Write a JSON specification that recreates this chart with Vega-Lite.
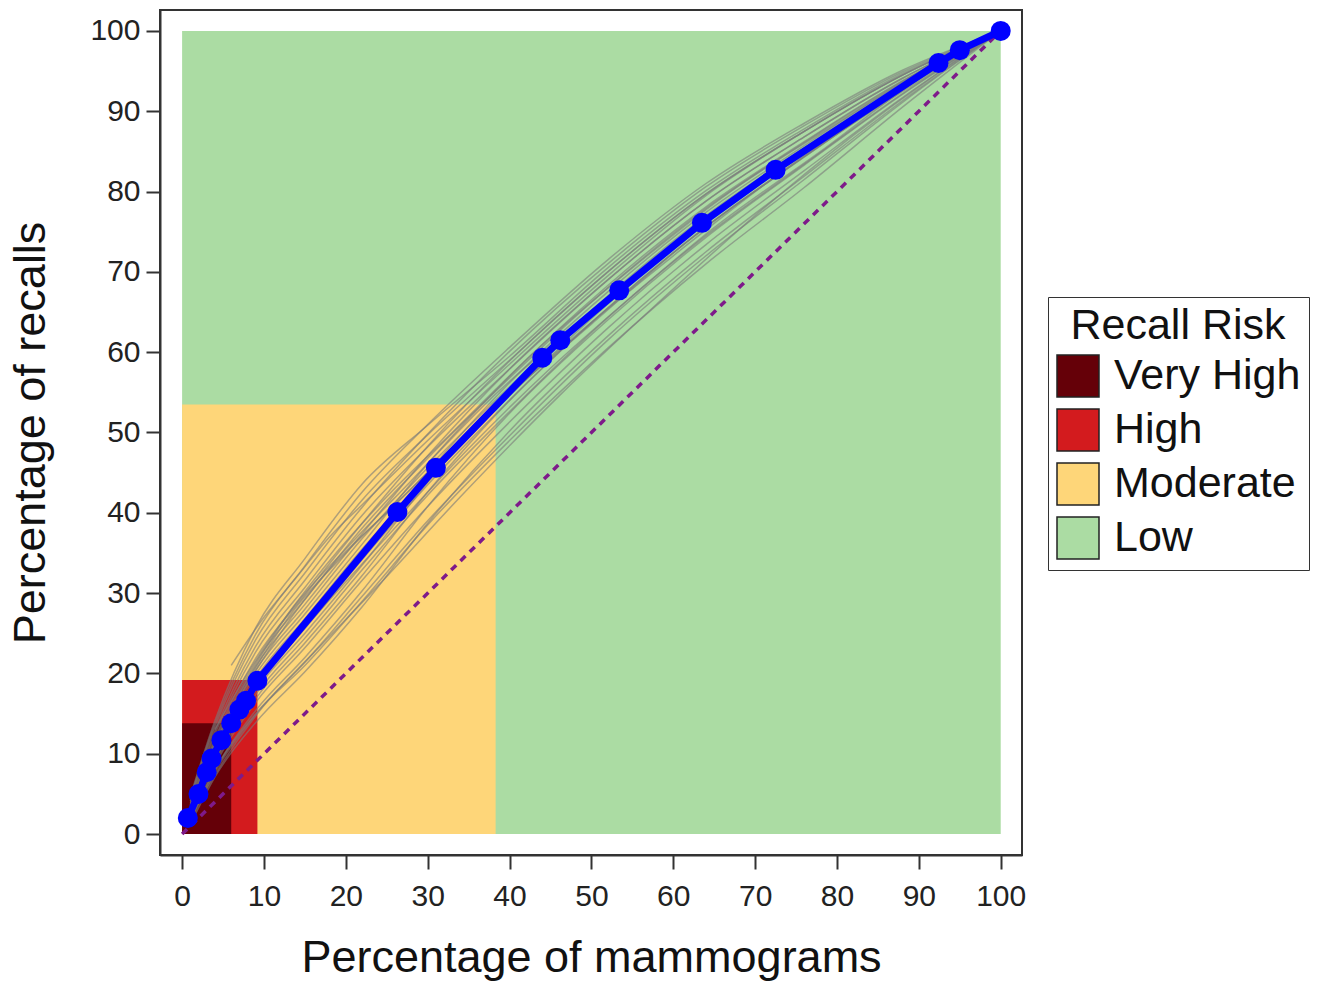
{
  "$schema": "https://vega.github.io/schema/vega-lite/v6.json",
  "autosize": {"type": "none"},
  "width": 862,
  "height": 845,
  "padding": {"left": 160, "top": 10, "right": 307, "bottom": 131},
  "background": "white",
  "config": {
    "view": {"stroke": "#333333", "strokeWidth": 2},
    "font": "Liberation Sans",
    "axis": {
      "grid": false,
      "domainColor": "#333333",
      "domainWidth": 2,
      "tickColor": "#333333",
      "tickWidth": 2,
      "tickSize": 14,
      "labelFontSize": 30,
      "labelColor": "#222222",
      "labelFont": "Liberation Sans",
      "titleFont": "Liberation Sans",
      "titleFontSize": 45,
      "titleFontWeight": "normal",
      "titleColor": "#111111"
    }
  },
  "datasets": {
    "zones": [
      {"risk": "Low", "x0": 0, "x1": 100, "y0": 0, "y1": 100},
      {"risk": "Moderate", "x0": 0, "x1": 38.3, "y0": 0, "y1": 53.5},
      {"risk": "High", "x0": 0, "x1": 9.2, "y0": 0, "y1": 19.2},
      {"risk": "Very High", "x0": 0, "x1": 6.0, "y0": 0, "y1": 13.8}
    ],
    "diag": [{"x": 0, "y": 0}, {"x": 100, "y": 100}],
    "main": [
      {"x": 0.7, "y": 2.0}, {"x": 2.0, "y": 5.0}, {"x": 3.0, "y": 7.7}, {"x": 3.6, "y": 9.4},
      {"x": 4.8, "y": 11.7}, {"x": 6.0, "y": 13.8}, {"x": 7.0, "y": 15.5}, {"x": 7.8, "y": 16.6},
      {"x": 9.2, "y": 19.1}, {"x": 26.3, "y": 40.1}, {"x": 31.0, "y": 45.6}, {"x": 44.0, "y": 59.3},
      {"x": 46.2, "y": 61.5}, {"x": 53.4, "y": 67.7}, {"x": 63.5, "y": 76.1}, {"x": 72.5, "y": 82.7},
      {"x": 92.4, "y": 96.0}, {"x": 95.0, "y": 97.6}, {"x": 100, "y": 100}
    ],
    "boot": [
      {"g":1,"x":1,"y":1.2},{"g":1,"x":4,"y":7.1},{"g":1,"x":9,"y":13.9},{"g":1,"x":15,"y":20.2},{"g":1,"x":22,"y":28.3},{"g":1,"x":30,"y":38.7},{"g":1,"x":40,"y":50.2},{"g":1,"x":52,"y":62.0},{"g":1,"x":64,"y":72.5},{"g":1,"x":76,"y":81.9},{"g":1,"x":88,"y":91.3},{"g":1,"x":100,"y":100},
      {"g":2,"x":1,"y":1.5},{"g":2,"x":4,"y":7.7},{"g":2,"x":9,"y":14.9},{"g":2,"x":15,"y":21.4},{"g":2,"x":22,"y":29.6},{"g":2,"x":30,"y":39.0},{"g":2,"x":40,"y":49.6},{"g":2,"x":52,"y":61.5},{"g":2,"x":64,"y":72.0},{"g":2,"x":76,"y":81.5},{"g":2,"x":88,"y":91.1},{"g":2,"x":100,"y":100},
      {"g":3,"x":1,"y":1.7},{"g":3,"x":4,"y":8.0},{"g":3,"x":9,"y":15.4},{"g":3,"x":15,"y":22.0},{"g":3,"x":22,"y":30.3},{"g":3,"x":30,"y":40.8},{"g":3,"x":40,"y":52.4},{"g":3,"x":52,"y":64.0},{"g":3,"x":64,"y":74.3},{"g":3,"x":76,"y":83.3},{"g":3,"x":88,"y":92.1},{"g":3,"x":100,"y":100},
      {"g":4,"x":1,"y":2.0},{"g":4,"x":4,"y":8.6},{"g":4,"x":9,"y":16.4},{"g":4,"x":15,"y":23.2},{"g":4,"x":22,"y":31.6},{"g":4,"x":30,"y":40.8},{"g":4,"x":40,"y":51.3},{"g":4,"x":52,"y":63.0},{"g":4,"x":64,"y":73.4},{"g":4,"x":76,"y":82.6},{"g":4,"x":88,"y":91.7},{"g":4,"x":100,"y":100},
      {"g":5,"x":1,"y":2.1},{"g":5,"x":4,"y":8.9},{"g":5,"x":9,"y":16.9},{"g":5,"x":15,"y":23.8},{"g":5,"x":22,"y":32.2},{"g":5,"x":30,"y":42.6},{"g":5,"x":40,"y":54.0},{"g":5,"x":52,"y":65.5},{"g":5,"x":64,"y":75.6},{"g":5,"x":76,"y":84.3},{"g":5,"x":88,"y":92.7},{"g":5,"x":100,"y":100},
      {"g":6,"x":1,"y":2.3},{"g":6,"x":4,"y":9.2},{"g":6,"x":9,"y":17.4},{"g":6,"x":15,"y":24.4},{"g":6,"x":22,"y":32.9},{"g":6,"x":30,"y":42.2},{"g":6,"x":40,"y":52.6},{"g":6,"x":52,"y":64.3},{"g":6,"x":64,"y":74.5},{"g":6,"x":76,"y":83.4},{"g":6,"x":88,"y":92.2},{"g":6,"x":100,"y":100},
      {"g":7,"x":1,"y":2.4},{"g":7,"x":4,"y":9.5},{"g":7,"x":9,"y":17.9},{"g":7,"x":15,"y":25.0},{"g":7,"x":22,"y":33.5},{"g":7,"x":30,"y":43.8},{"g":7,"x":40,"y":55.1},{"g":7,"x":52,"y":66.5},{"g":7,"x":64,"y":76.5},{"g":7,"x":76,"y":85.0},{"g":7,"x":88,"y":93.1},{"g":7,"x":100,"y":100},
      {"g":8,"x":1,"y":2.6},{"g":8,"x":4,"y":9.8},{"g":8,"x":9,"y":18.4},{"g":8,"x":15,"y":25.6},{"g":8,"x":22,"y":34.2},{"g":8,"x":30,"y":43.5},{"g":8,"x":40,"y":54.0},{"g":8,"x":52,"y":65.5},{"g":8,"x":64,"y":75.6},{"g":8,"x":76,"y":84.3},{"g":8,"x":88,"y":92.7},{"g":8,"x":100,"y":100},
      {"g":9,"x":1,"y":2.7},{"g":9,"x":4,"y":10.1},{"g":9,"x":9,"y":18.9},{"g":9,"x":15,"y":26.2},{"g":9,"x":22,"y":34.8},{"g":9,"x":30,"y":45.0},{"g":9,"x":40,"y":56.2},{"g":9,"x":52,"y":67.5},{"g":9,"x":64,"y":77.4},{"g":9,"x":76,"y":85.7},{"g":9,"x":88,"y":93.5},{"g":9,"x":100,"y":100},
      {"g":10,"x":1,"y":2.9},{"g":10,"x":4,"y":10.4},{"g":10,"x":9,"y":19.4},{"g":10,"x":15,"y":26.8},{"g":10,"x":22,"y":35.5},{"g":10,"x":30,"y":44.4},{"g":10,"x":40,"y":54.6},{"g":10,"x":52,"y":66.0},{"g":10,"x":64,"y":76.1},{"g":10,"x":76,"y":84.7},{"g":10,"x":88,"y":92.9},{"g":10,"x":100,"y":100},
      {"g":11,"x":1,"y":3.0},{"g":11,"x":4,"y":10.7},{"g":11,"x":9,"y":19.9},{"g":11,"x":15,"y":27.4},{"g":11,"x":22,"y":36.1},{"g":11,"x":30,"y":46.1},{"g":11,"x":40,"y":57.0},{"g":11,"x":52,"y":68.3},{"g":11,"x":64,"y":78.1},{"g":11,"x":76,"y":86.2},{"g":11,"x":88,"y":93.8},{"g":11,"x":100,"y":100},
      {"g":12,"x":1,"y":3.2},{"g":12,"x":4,"y":11.0},{"g":12,"x":9,"y":20.4},{"g":12,"x":15,"y":28.0},{"g":12,"x":22,"y":36.8},{"g":12,"x":30,"y":45.6},{"g":12,"x":40,"y":55.7},{"g":12,"x":52,"y":67.0},{"g":12,"x":64,"y":77.0},{"g":12,"x":76,"y":85.4},{"g":12,"x":88,"y":93.3},{"g":12,"x":100,"y":100},
      {"g":13,"x":1,"y":3.3},{"g":13,"x":4,"y":11.3},{"g":13,"x":9,"y":20.9},{"g":13,"x":15,"y":28.6},{"g":13,"x":22,"y":37.4},{"g":13,"x":30,"y":47.1},{"g":13,"x":40,"y":57.9},{"g":13,"x":52,"y":69.0},{"g":13,"x":64,"y":78.8},{"g":13,"x":76,"y":86.8},{"g":13,"x":88,"y":94.1},{"g":13,"x":100,"y":100},
      {"g":14,"x":1,"y":3.5},{"g":14,"x":4,"y":11.6},{"g":14,"x":9,"y":21.4},{"g":14,"x":15,"y":29.2},{"g":14,"x":22,"y":38.1},{"g":14,"x":30,"y":46.8},{"g":14,"x":40,"y":56.8},{"g":14,"x":52,"y":68.0},{"g":14,"x":64,"y":77.9},{"g":14,"x":76,"y":86.1},{"g":14,"x":88,"y":93.7},{"g":14,"x":100,"y":100},
      {"g":15,"x":1,"y":3.6},{"g":15,"x":4,"y":11.9},{"g":15,"x":9,"y":21.9},{"g":15,"x":15,"y":29.8},{"g":15,"x":22,"y":38.7},{"g":15,"x":30,"y":48.3},{"g":15,"x":40,"y":58.9},{"g":15,"x":52,"y":70.0},{"g":15,"x":64,"y":79.7},{"g":15,"x":76,"y":87.5},{"g":15,"x":88,"y":94.5},{"g":15,"x":100,"y":100},
      {"g":16,"x":1,"y":3.8},{"g":16,"x":4,"y":12.4},{"g":16,"x":9,"y":22.7},{"g":16,"x":15,"y":30.7},{"g":16,"x":22,"y":39.7},{"g":16,"x":30,"y":48.2},{"g":16,"x":40,"y":57.9},{"g":16,"x":52,"y":69.0},{"g":16,"x":64,"y":78.8},{"g":16,"x":76,"y":86.8},{"g":16,"x":88,"y":94.1},{"g":16,"x":100,"y":100},
      {"g":17,"x":1,"y":4.1},{"g":17,"x":4,"y":12.8},{"g":17,"x":9,"y":23.4},{"g":17,"x":15,"y":31.6},{"g":17,"x":22,"y":40.7},{"g":17,"x":30,"y":49.8},{"g":17,"x":40,"y":60.1},{"g":17,"x":52,"y":71.0},{"g":17,"x":64,"y":80.6},{"g":17,"x":76,"y":88.2},{"g":17,"x":88,"y":94.9},{"g":17,"x":100,"y":100},
      {"g":18,"x":1,"y":4.3},{"g":18,"x":4,"y":13.3},{"g":18,"x":9,"y":24.2},{"g":18,"x":15,"y":32.5},{"g":18,"x":22,"y":41.6},{"g":18,"x":30,"y":49.7},{"g":18,"x":40,"y":59.0},{"g":18,"x":52,"y":70.0},{"g":18,"x":64,"y":79.7},{"g":18,"x":76,"y":87.5},{"g":18,"x":88,"y":94.5},{"g":18,"x":100,"y":100},
      {"g":19,"x":1,"y":4.5},{"g":19,"x":4,"y":13.7},{"g":19,"x":9,"y":24.9},{"g":19,"x":15,"y":33.4},{"g":19,"x":22,"y":42.6},{"g":19,"x":30,"y":51.0},{"g":19,"x":40,"y":60.6},{"g":19,"x":52,"y":71.5},{"g":19,"x":64,"y":81.0},{"g":19,"x":76,"y":88.5},{"g":19,"x":88,"y":95.1},{"g":19,"x":100,"y":100},
      {"g":20,"x":1,"y":4.7},{"g":20,"x":4,"y":14.1},{"g":20,"x":9,"y":25.7},{"g":20,"x":15,"y":34.3},{"g":20,"x":22,"y":43.6},{"g":20,"x":30,"y":50.9},{"g":20,"x":40,"y":59.5},{"g":20,"x":52,"y":70.5},{"g":20,"x":64,"y":80.1},{"g":20,"x":76,"y":87.8},{"g":20,"x":88,"y":94.7},{"g":20,"x":100,"y":100},
      {"g":21,"x":3,"y":8},{"g":21,"x":7,"y":17},{"g":21,"x":13,"y":27},{"g":21,"x":20,"y":35},{"g":21,"x":28,"y":43},{"g":21,"x":38,"y":53},{"g":21,"x":50,"y":63.5},{"g":21,"x":62,"y":74},{"g":21,"x":74,"y":83},{"g":21,"x":86,"y":91.5},{"g":21,"x":100,"y":100},
      {"g":22,"x":2,"y":6},{"g":22,"x":6,"y":15},{"g":22,"x":12,"y":25},{"g":22,"x":18,"y":33},{"g":22,"x":26,"y":41},{"g":22,"x":36,"y":51},{"g":22,"x":48,"y":62},{"g":22,"x":60,"y":72},{"g":22,"x":72,"y":81.5},{"g":22,"x":85,"y":90.5},{"g":22,"x":100,"y":100},
      {"g":23,"x":1.5,"y":3},{"g":23,"x":5,"y":9},{"g":23,"x":10,"y":16},{"g":23,"x":16,"y":22.5},{"g":23,"x":24,"y":31},{"g":23,"x":34,"y":42},{"g":23,"x":46,"y":54.5},{"g":23,"x":58,"y":66},{"g":23,"x":70,"y":77},{"g":23,"x":82,"y":87},{"g":23,"x":92,"y":94.5},{"g":23,"x":100,"y":100},
      {"g":24,"x":6,"y":21},{"g":24,"x":10,"y":27},{"g":24,"x":14,"y":32},{"g":24,"x":18,"y":37},{"g":24,"x":22,"y":41},{"g":24,"x":30,"y":49},{"g":24,"x":40,"y":58.5},{"g":24,"x":52,"y":69.5},{"g":24,"x":64,"y":79.5},{"g":24,"x":76,"y":87.5},{"g":24,"x":88,"y":94.5},{"g":24,"x":100,"y":100},
      {"g":25,"x":4,"y":13},{"g":25,"x":8,"y":20},{"g":25,"x":13,"y":27.5},{"g":25,"x":20,"y":35.5},{"g":25,"x":28,"y":44},{"g":25,"x":38,"y":54.5},{"g":25,"x":50,"y":65},{"g":25,"x":62,"y":75},{"g":25,"x":74,"y":84},{"g":25,"x":86,"y":92},{"g":25,"x":100,"y":100},
      {"g":26,"x":1,"y":2},{"g":26,"x":4,"y":8},{"g":26,"x":9,"y":15},{"g":26,"x":15,"y":21},{"g":26,"x":22,"y":29},{"g":26,"x":30,"y":38.5},{"g":26,"x":40,"y":49},{"g":26,"x":52,"y":60.5},{"g":26,"x":64,"y":71},{"g":26,"x":76,"y":80.5},{"g":26,"x":88,"y":90.5},{"g":26,"x":100,"y":100},
      {"g":27,"x":2,"y":5},{"g":27,"x":6,"y":13},{"g":27,"x":11,"y":21},{"g":27,"x":17,"y":28},{"g":27,"x":25,"y":37},{"g":27,"x":35,"y":48},{"g":27,"x":45,"y":58},{"g":27,"x":55,"y":67},{"g":27,"x":65,"y":75.5},{"g":27,"x":78,"y":85},{"g":27,"x":90,"y":94},{"g":27,"x":100,"y":100},
      {"g":28,"x":3,"y":9},{"g":28,"x":7,"y":17.5},{"g":28,"x":12,"y":26},{"g":28,"x":18,"y":34},{"g":28,"x":25,"y":42},{"g":28,"x":33,"y":50},{"g":28,"x":43,"y":60},{"g":28,"x":55,"y":70.5},{"g":28,"x":67,"y":80},{"g":28,"x":80,"y":88.5},{"g":28,"x":92,"y":96},{"g":28,"x":100,"y":100}
    ]
  },
  "layer": [
    {
      "data": {"name": "zones"},
      "mark": {"type": "rect"},
      "encoding": {
        "x": {"field": "x0", "type": "quantitative", "scale": {"domain": [-2.7, 102.6], "nice": false, "zero": false},
              "axis": {"values": [0,10,20,30,40,50,60,70,80,90,100], "title": "Percentage of mammograms", "labelPadding": 12, "titlePadding": 24}},
        "x2": {"field": "x1"},
        "y": {"field": "y0", "type": "quantitative", "scale": {"domain": [-2.6, 102.6], "nice": false, "zero": false},
              "axis": {"values": [0,10,20,30,40,50,60,70,80,90,100], "title": "Percentage of recalls", "labelPadding": 6, "titlePadding": 36}},
        "y2": {"field": "y1"},
        "color": {
          "field": "risk", "type": "nominal",
          "scale": {"domain": ["Very High", "High", "Moderate", "Low"], "range": ["#650008", "#D31B1E", "#FED679", "#ABDCA3"]},
          "legend": {
            "title": "Recall Risk",
            "orient": "none",
            "legendX": 888,
            "legendY": 287,
            "symbolType": "square",
            "symbolSize": 1764,
            "symbolStrokeColor": "#222222",
            "symbolStrokeWidth": 1.5,
            "symbolOpacity": 1,
            "labelFontSize": 43,
            "labelFont": "Liberation Sans",
            "labelColor": "#111111",
            "labelOffset": 14,
            "titleFontSize": 43,
            "titleFont": "Liberation Sans",
            "titleFontWeight": "normal",
            "titleColor": "#111111",
            "titleAnchor": "middle",
            "titleLimit": 500,
            "titlePadding": 6,
            "rowPadding": 6,
            "padding": 8,
            "strokeColor": "#333333",
            "fillColor": "white",
            "labelLimit": 400
          }
        }
      }
    },
    {
      "data": {"name": "boot"},
      "mark": {"type": "line", "color": "#7a7a7a", "strokeWidth": 1.5, "opacity": 0.6, "interpolate": "monotone"},
      "encoding": {
        "x": {"field": "x", "type": "quantitative"},
        "y": {"field": "y", "type": "quantitative"},
        "detail": {"field": "g", "type": "nominal"}
      }
    },
    {
      "data": {"name": "diag"},
      "mark": {"type": "line", "color": "#7E1A8A", "strokeWidth": 3.5, "strokeDash": [7, 6]},
      "encoding": {
        "x": {"field": "x", "type": "quantitative"},
        "y": {"field": "y", "type": "quantitative"}
      }
    },
    {
      "data": {"name": "main"},
      "mark": {"type": "line", "color": "#0000FF", "strokeWidth": 7},
      "encoding": {
        "x": {"field": "x", "type": "quantitative"},
        "y": {"field": "y", "type": "quantitative"}
      }
    },
    {
      "data": {"name": "main"},
      "mark": {"type": "point", "filled": true, "color": "#0000FF", "opacity": 1, "size": 400},
      "encoding": {
        "x": {"field": "x", "type": "quantitative"},
        "y": {"field": "y", "type": "quantitative"}
      }
    }
  ]
}
